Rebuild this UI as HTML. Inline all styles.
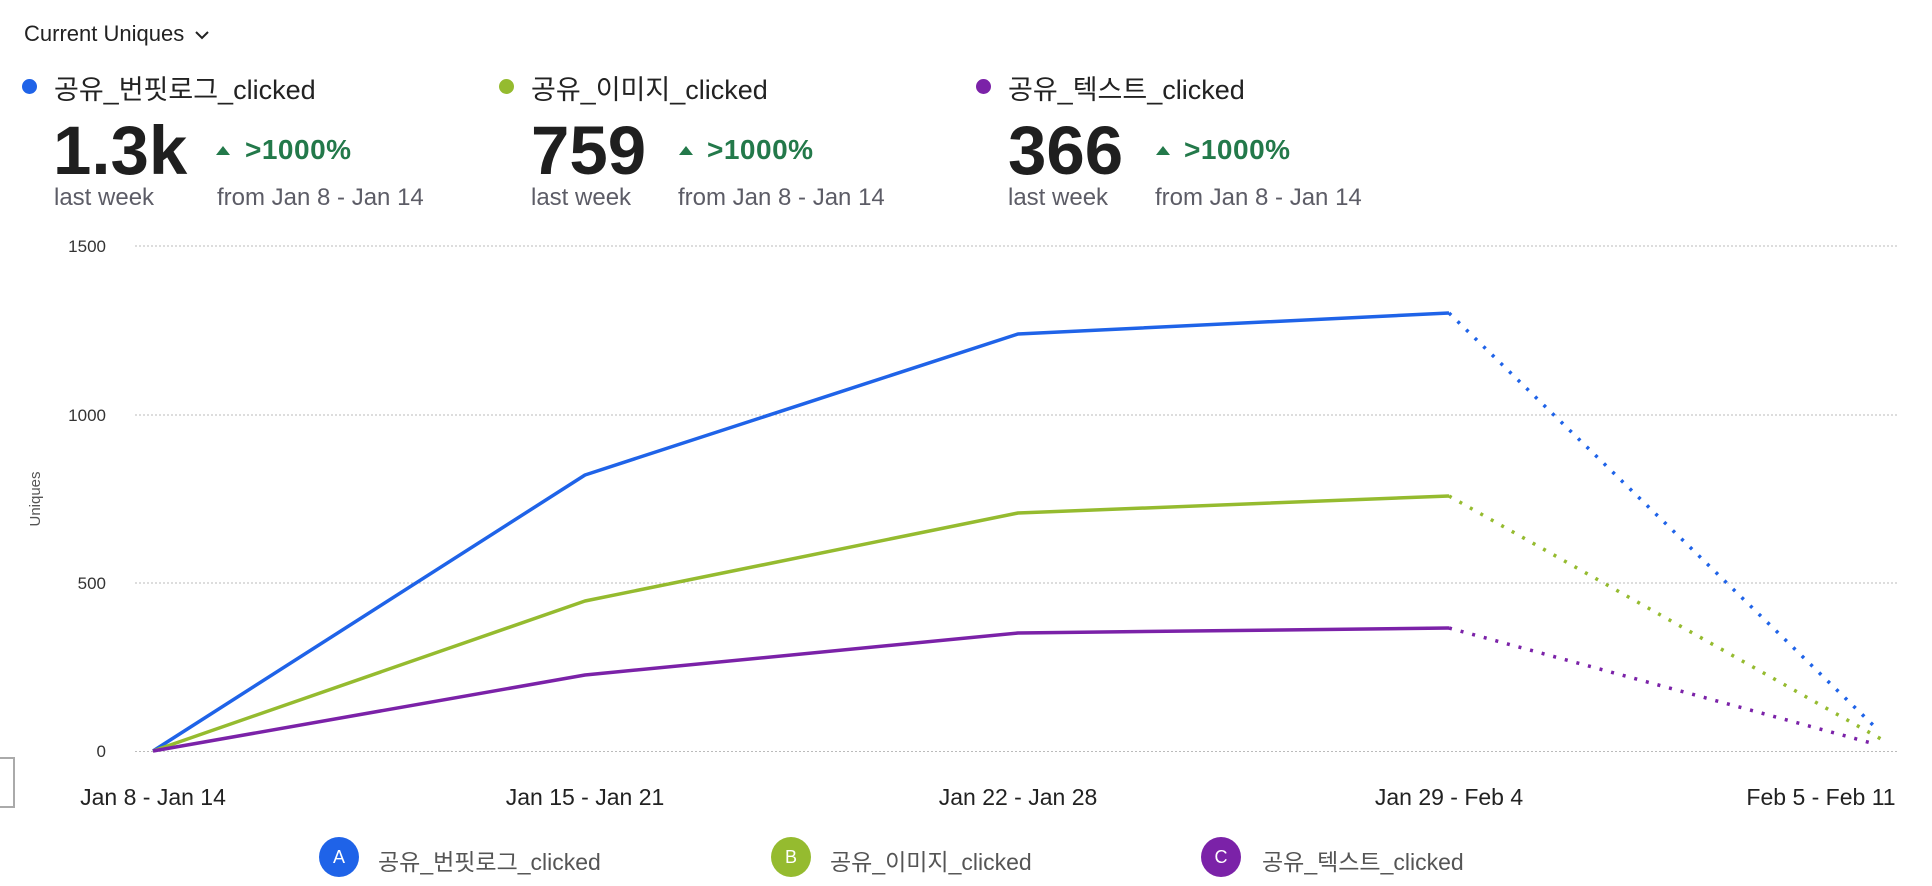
<!DOCTYPE html>
<html><head><meta charset="utf-8"><style>
body{margin:0;width:1932px;height:886px;background:#fff;overflow:hidden;font-family:"Liberation Sans","Noto Sans CJK KR",sans-serif;color:#222;position:relative}
.a{position:absolute;white-space:nowrap}
.dot{position:absolute;width:15px;height:15px;border-radius:50%}
.name{font-size:27px;color:#222}
.big{font-size:69px;font-weight:bold;color:#1f1f1f;letter-spacing:0}
.pct{font-size:28px;color:#23794a;font-weight:bold;letter-spacing:0.5px}
.sub{font-size:24px;color:#5c5c66}
.tri{position:absolute;width:0;height:0;border-left:7px solid transparent;border-right:7px solid transparent;border-bottom:9px solid #23794a}
.lc{position:absolute;width:40px;height:40px;border-radius:50%;color:#fff;font-size:18px;text-align:center;line-height:40px}
.ll{font-size:23px;color:#555}
</style></head><body>
<div class="a" style="left:24px;top:21px;font-size:22px;color:#222">Current Uniques <svg width="16" height="12" style="margin-left:4px" viewBox="0 0 16 12"><path d="M2 3 L8 9 L14 3" fill="none" stroke="#222" stroke-width="2"/></svg></div>

<div class="dot" style="left:22px;top:79px;background:#1f63e8"></div>
<div class="a name" style="left:54px;top:68px">공유_번핏로그_clicked</div>
<div class="a big" style="left:53px;top:111px">1.3k</div>
<div class="tri" style="left:216px;top:146px"></div>
<div class="a pct" style="left:245px;top:134px">&gt;1000%</div>
<div class="a sub" style="left:54px;top:184px">last week</div>
<div class="a sub" style="left:217px;top:184px">from Jan 8 - Jan 14</div>

<div class="dot" style="left:499px;top:79px;background:#95bb2f"></div>
<div class="a name" style="left:531px;top:68px">공유_이미지_clicked</div>
<div class="a big" style="left:531px;top:111px">759</div>
<div class="tri" style="left:679px;top:146px"></div>
<div class="a pct" style="left:707px;top:134px">&gt;1000%</div>
<div class="a sub" style="left:531px;top:184px">last week</div>
<div class="a sub" style="left:678px;top:184px">from Jan 8 - Jan 14</div>

<div class="dot" style="left:976px;top:79px;background:#7b22a8"></div>
<div class="a name" style="left:1008px;top:68px">공유_텍스트_clicked</div>
<div class="a big" style="left:1008px;top:111px">366</div>
<div class="tri" style="left:1156px;top:146px"></div>
<div class="a pct" style="left:1184px;top:134px">&gt;1000%</div>
<div class="a sub" style="left:1008px;top:184px">last week</div>
<div class="a sub" style="left:1155px;top:184px">from Jan 8 - Jan 14</div>

<svg class="a" style="left:0;top:0" width="1932" height="886">
<g stroke="#bbb" stroke-width="1" stroke-dasharray="2,2">
<line x1="135" y1="246" x2="1897" y2="246"/><line x1="135" y1="415" x2="1897" y2="415"/>
<line x1="135" y1="583" x2="1897" y2="583"/><line x1="135" y1="751.5" x2="1897" y2="751.5"/>
</g>
<g font-family="Liberation Sans" font-size="17" fill="#333" text-anchor="end">
<text x="106" y="252">1500</text><text x="106" y="421">1000</text><text x="106" y="589">500</text><text x="106" y="757">0</text>
</g>
<text transform="translate(40,499) rotate(-90)" text-anchor="middle" font-family="Liberation Sans" font-size="15" fill="#555">Uniques</text>
<g font-family="Liberation Sans" font-size="23" fill="#222" text-anchor="middle">
<text x="153" y="805">Jan 8 - Jan 14</text><text x="585" y="805">Jan 15 - Jan 21</text>
<text x="1018" y="805">Jan 22 - Jan 28</text><text x="1449" y="805">Jan 29 - Feb 4</text><text x="1821" y="805">Feb 5 - Feb 11</text>
</g>
<g fill="none" stroke-width="3.5" stroke-linejoin="round">
<polyline stroke="#1f63e8" points="153,751 585,475 1018,334 1449,313"/>
<polyline stroke="#95bb2f" points="153,751 585,601 1018,513 1449,496"/>
<polyline stroke="#7b22a8" points="153,751 585,675 1018,633 1449,628"/>
</g>
<g fill="none" stroke-width="3.5" stroke-dasharray="3,9">
<line stroke="#1f63e8" x1="1449" y1="313" x2="1875" y2="727"/>
<line stroke="#95bb2f" x1="1449" y1="496" x2="1881" y2="739"/>
<line stroke="#7b22a8" x1="1449" y1="628" x2="1875" y2="744"/>
</g>
<rect x="-2" y="758" width="16" height="49" fill="none" stroke="#aaa" stroke-width="2"/>
</svg>

<div class="lc" style="left:319px;top:837px;background:#1f63e8">A</div>
<div class="a ll" style="left:378px;top:843px">공유_번핏로그_clicked</div>
<div class="lc" style="left:771px;top:837px;background:#95bb2f">B</div>
<div class="a ll" style="left:830px;top:843px">공유_이미지_clicked</div>
<div class="lc" style="left:1201px;top:837px;background:#7b22a8">C</div>
<div class="a ll" style="left:1262px;top:843px">공유_텍스트_clicked</div>
</body></html>
